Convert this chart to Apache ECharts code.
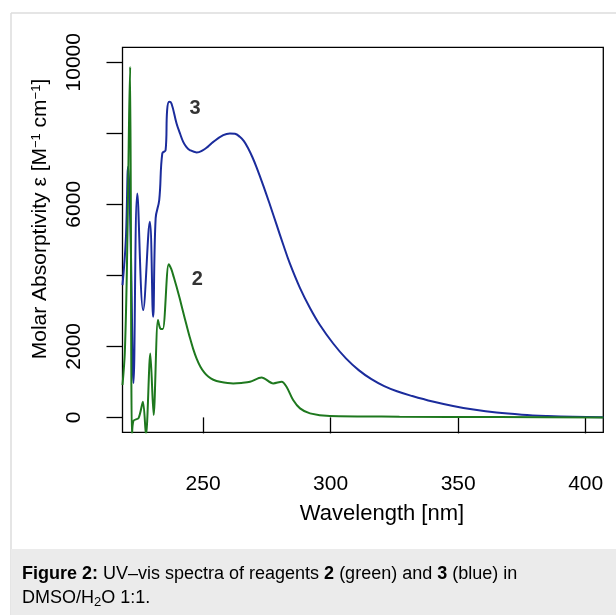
<!DOCTYPE html>
<html>
<head>
<meta charset="utf-8">
<title>UV-vis spectra</title>
<script src="https://cdn.jsdelivr.net/npm/echarts@6.0.0/dist/echarts.min.js"></script>
<style>
  html, body { margin: 0; padding: 0; background: #fff; }
  #chart { width: 616px; height: 615px; }
</style>
</head>
<body>
<div id="chart"></div>
<script>
// reagent 3 (blue)
var blueWl = [218.4, 219.7, 220.6, 221.6, 222.7, 224.2, 226.5, 229.1, 230.4, 231.4, 232.8, 234.0, 235.3, 235.9, 236.7, 237.6, 239.6, 240.9, 242.2, 243.5, 244.8, 247.5, 250.0, 251.8, 254.0, 257.9, 260.5, 262.5, 264.4, 266.0, 267.7, 269.3, 271.0, 273.6, 276.2, 278.8, 281.4, 284.0, 288.0, 291.9, 295.8, 301.0, 306.0, 311.0, 316.0, 321.0, 326.0, 332.0, 340.0, 348.0, 356.0, 365.0, 375.0, 385.0, 395.0, 406.9];
var blueEps = [3724, 4990, 7054, 4990, 966, 6306, 3020, 5506, 2832, 5610, 6117, 7432, 7525, 8650, 8884, 8839, 8276, 8003, 7758, 7609, 7525, 7460, 7525, 7617, 7758, 7947, 7995, 7984, 7900, 7778, 7572, 7332, 7034, 6527, 5986, 5427, 4868, 4335, 3640, 3080, 2600, 2080, 1660, 1330, 1075, 880, 735, 600, 445, 320, 220, 135, 75, 38, 15, 4];

// reagent 2 (green)
var greenWl = [218.4, 219.3, 220.1, 220.7, 221.0, 221.4, 222.1, 222.7, 224.7, 226.4, 227.6, 229.3, 230.6, 232.3, 233.2, 234.2, 236.5, 237.5, 238.5, 239.6, 240.9, 242.2, 243.5, 244.8, 246.1, 247.5, 249.0, 250.5, 252.0, 254.0, 256.6, 261.8, 265.0, 268.4, 272.9, 277.5, 280.8, 282.7, 285.3, 288.0, 291.9, 299.7, 327.0, 366.0, 406.9];
var greenEps = [911, 1810, 4062, 6962, 8510, 9869, -600, -96, -20, 439, -500, 1802, 65, 2739, 2505, 2486, 4315, 4180, 3950, 3676, 3330, 2960, 2600, 2250, 1930, 1650, 1420, 1260, 1150, 1060, 1002, 957, 970, 1002, 1126, 957, 1002, 861, 487, 253, 113, 37, 20, 8, 0];

var xTicks = [250, 300, 350, 400];
var yTicks = [0, 2000, 4000, 6000, 8000, 10000];
var yTickLabels = [0, 2000, 6000, 10000];

// curve labels: [wavelength, epsilon, text]
var curveLabels = [[246.8, 8698, "3"], [247.7, 3885, "2"]];

(function (echarts) {
  "use strict";

  var FONT = "Liberation Sans, Arial, sans-serif";

  function pairs(xs, ys) {
    return xs.map(function (x, i) { return [x, ys[i]]; });
  }

  var chart = echarts.init(document.getElementById("chart"), null, { renderer: "canvas" });

  chart.setOption({
    animation: false,
    backgroundColor: "#fff",
    grid: {
      left: 122.5, top: 47.3, right: 12.7, bottom: 182.7,
      show: true, borderColor: "#000", borderWidth: 1.3, backgroundColor: "transparent"
    },
    xAxis: {
      type: "value", min: 218.4, max: 406.9,
      axisLine: { show: false },
      splitLine: { show: false },
      axisTick: { show: true, length: 16, customValues: xTicks, lineStyle: { color: "#000", width: 1.3 } },
      axisLabel: { customValues: xTicks, margin: 41, fontSize: 21, color: "#000", fontFamily: FONT }
    },
    yAxis: {
      type: "value", min: -420, max: 10420,
      axisLine: { show: false },
      splitLine: { show: false },
      axisTick: { show: true, length: 16, customValues: yTicks, lineStyle: { color: "#000", width: 1.3 } },
      axisLabel: {
        customValues: yTickLabels, rotate: 90, margin: 38, fontSize: 21, color: "#000", fontFamily: FONT,
        formatter: function (v) { return String(v); }
      }
    },
    series: [
      {
        type: "line", data: pairs(blueWl, blueEps), showSymbol: false, smooth: 0.4, clip: true,
        lineStyle: { color: "#1b2c9c", width: 2 }, z: 2
      },
      {
        type: "line", data: pairs(greenWl, greenEps), showSymbol: false, smooth: 0.3, clip: true,
        lineStyle: { color: "#1e781e", width: 2 }, z: 3
      },
      {
        type: "scatter", data: curveLabels, symbolSize: 0, silent: true,
        label: {
          show: true, position: "inside", fontSize: 20, fontWeight: "bold", color: "#000", fontFamily: FONT,
          formatter: function (p) { return p.data[2]; }
        }
      }
    ],
    graphic: [
      { type: "line", shape: { x1: 11, y1: 13, x2: 616, y2: 13 }, style: { stroke: "#dcdcdc", lineWidth: 1.5 } },
      { type: "line", shape: { x1: 11, y1: 13, x2: 11, y2: 615 }, style: { stroke: "#dcdcdc", lineWidth: 1.5 } },
      { type: "rect", shape: { x: 11, y: 549, width: 605, height: 66 }, style: { fill: "#ebebeb" } },
      {
        type: "text", x: 40, y: 219, rotation: Math.PI / 2,
        style: {
          text: "Molar Absorptivity \u03b5 [M{s|\u22121} cm{s|\u22121}]",
          font: "21px " + FONT, fill: "#000", align: "center", verticalAlign: "middle",
          rich: { s: { fontSize: 13, fontFamily: FONT, verticalAlign: "top", padding: [0, 0, 8, 0] } }
        }
      },
      {
        type: "text", x: 382, y: 514,
        style: { text: "Wavelength [nm]", font: "22px " + FONT, fill: "#000", align: "center", verticalAlign: "middle" }
      },
      {
        type: "text", x: 22, y: 574,
        style: {
          text: "{b|Figure 2:} UV\u2013vis spectra of reagents {b|2} (green) and {b|3} (blue) in",
          font: "18px " + FONT, fill: "#000", verticalAlign: "middle",
          rich: { b: { fontSize: 18, fontWeight: "bold", fontFamily: FONT } }
        }
      },
      {
        type: "text", x: 22, y: 598,
        style: {
          text: "DMSO/H{sub|2}O 1:1.",
          font: "18px " + FONT, fill: "#000", verticalAlign: "middle",
          rich: { sub: { fontSize: 13, fontFamily: FONT, padding: [9, 0, 0, 0] } }
        }
      }
    ]
  });
})(echarts);
</script>
</body>
</html>
